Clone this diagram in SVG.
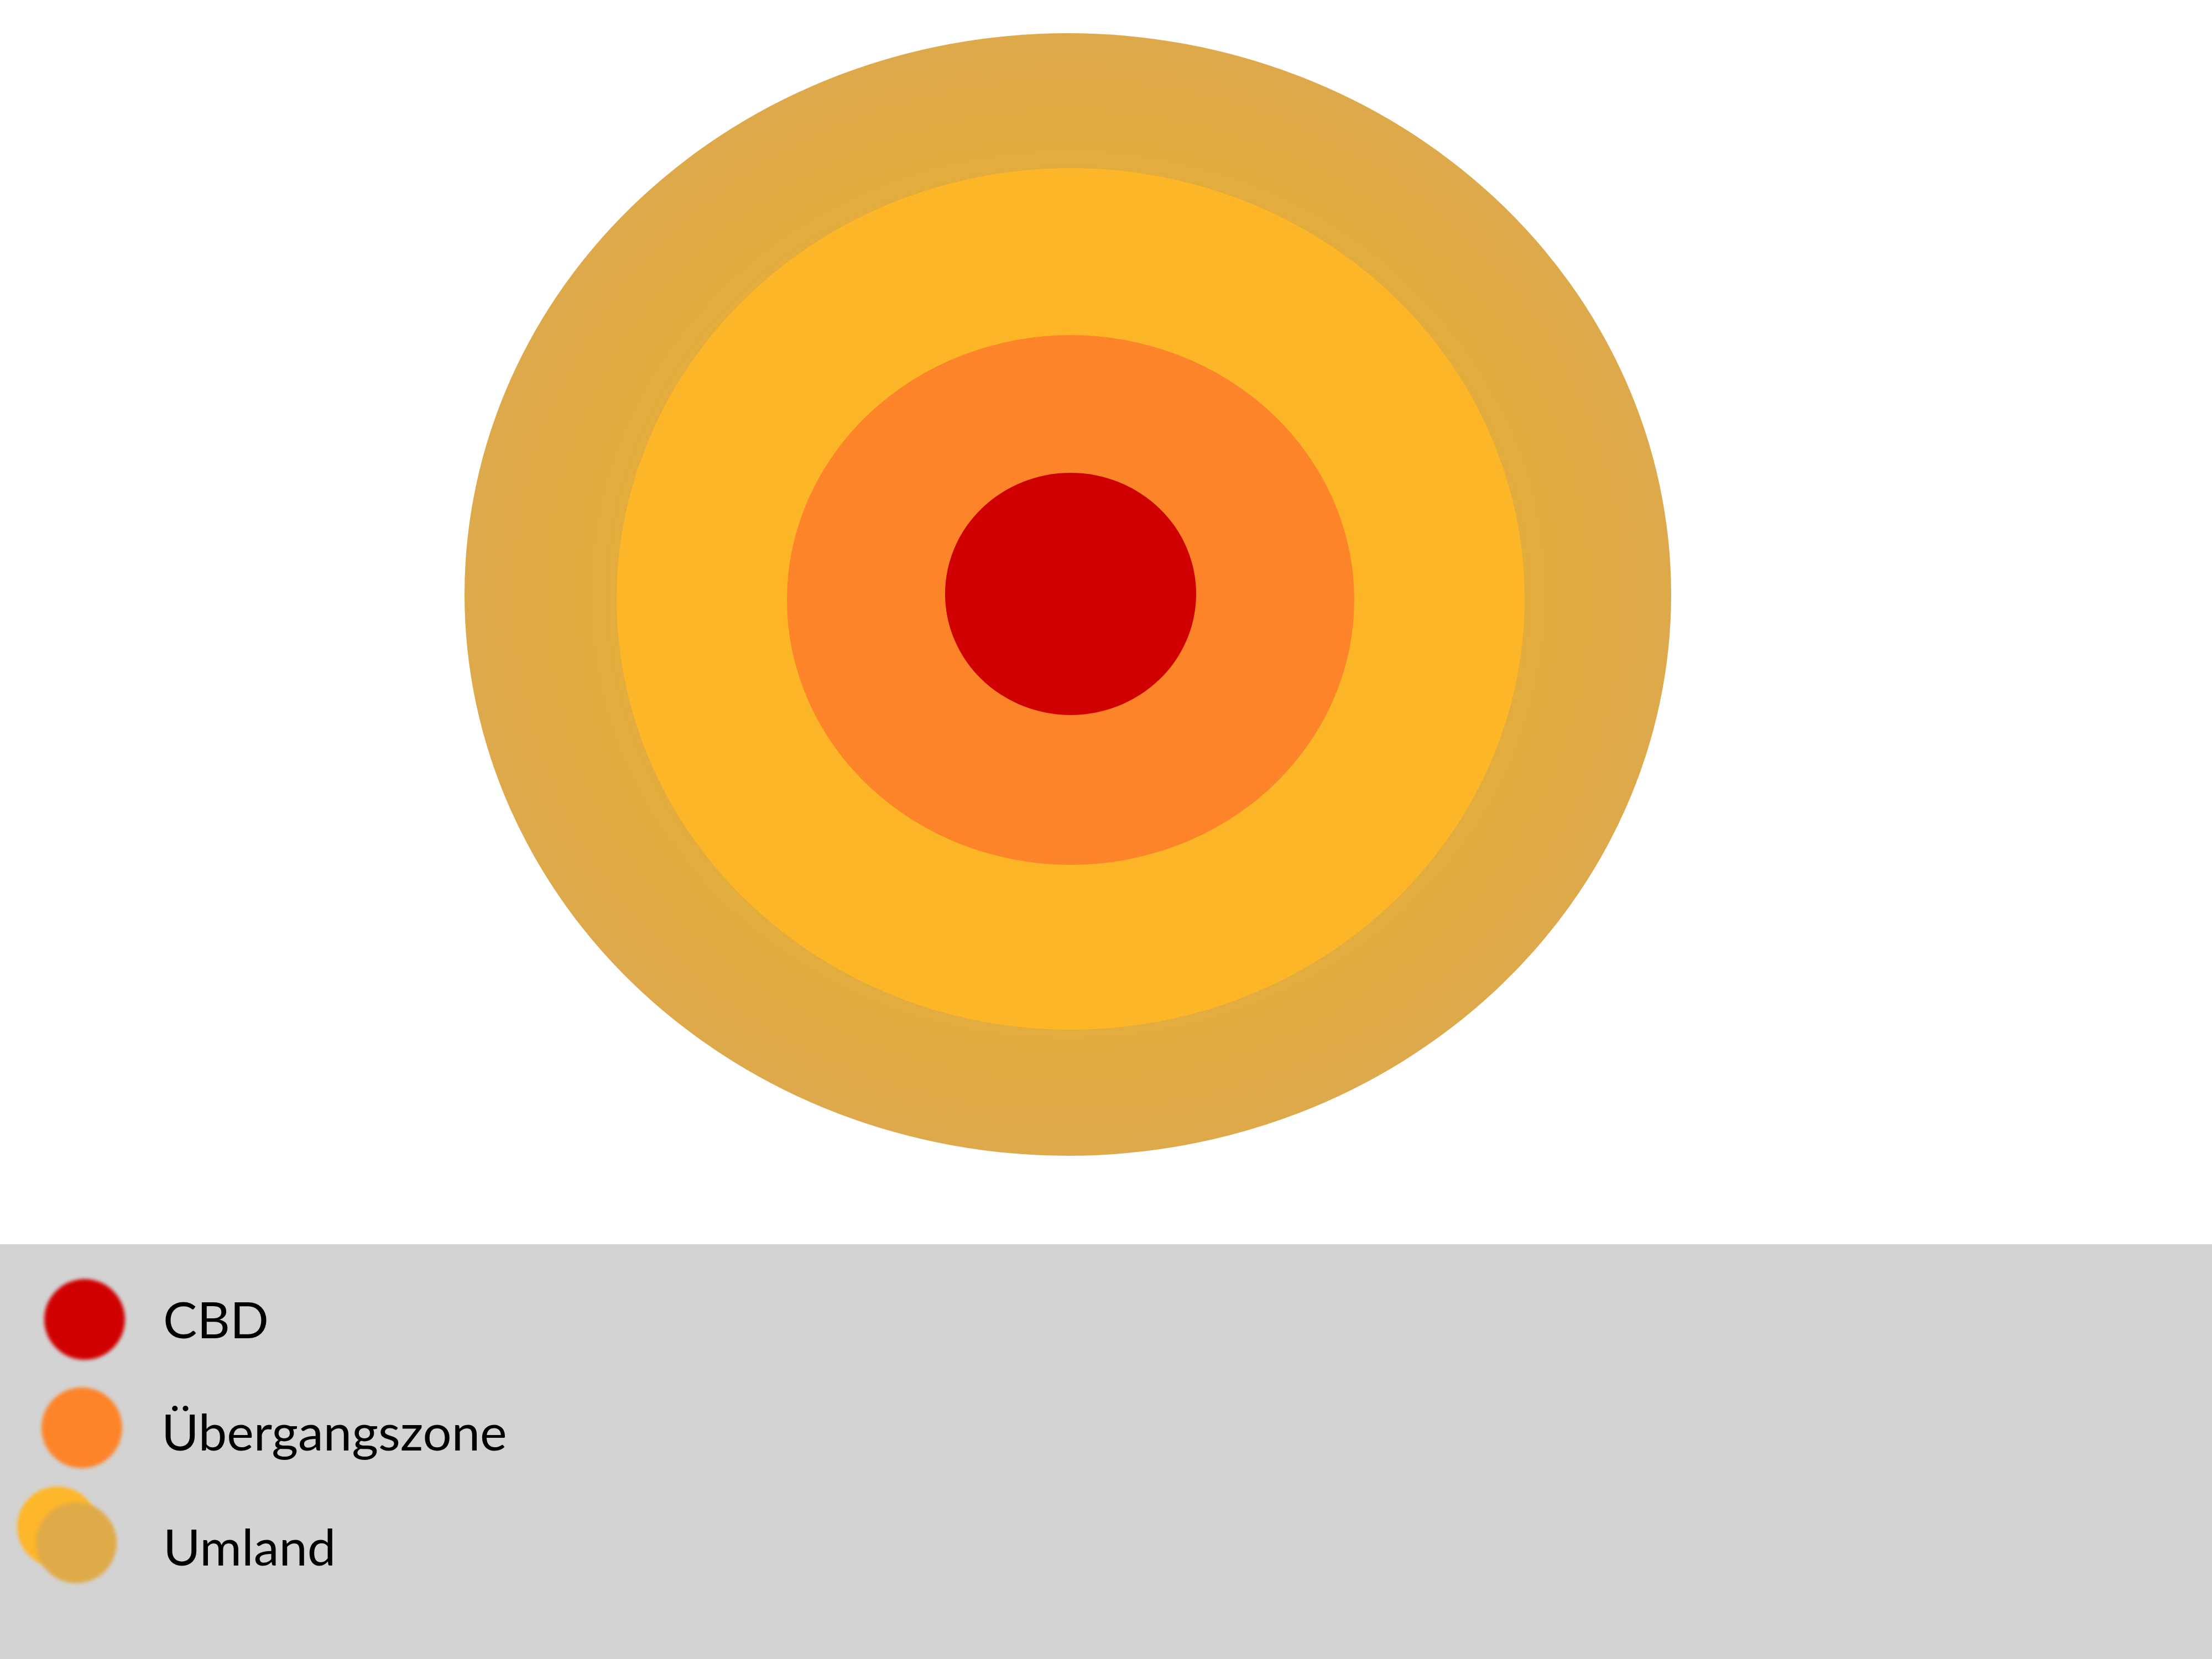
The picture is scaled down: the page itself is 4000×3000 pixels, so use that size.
<svg xmlns="http://www.w3.org/2000/svg" width="4000" height="3000" viewBox="0 0 4000 3000">
<style>
  .lbl { font-family: Lato, "Open Sans", "Liberation Sans", sans-serif; font-size: 92px; fill: #000; }
</style>
<defs>
  <radialGradient id="outerGrad" cx="0.5" cy="0.5" r="0.5">
    <stop offset="0.7" stop-color="#e4ad3a"/>
    <stop offset="1" stop-color="#dea94b"/>
  </radialGradient>
  <filter id="soft" x="-20%" y="-20%" width="140%" height="140%">
    <feGaussianBlur stdDeviation="3"/>
  </filter>
</defs>
<rect x="0" y="0" width="4000" height="3000" fill="#ffffff"/>
<g id="zones">
  <g id="umland"><ellipse cx="1931" cy="1075" rx="1091" ry="1015" fill="url(#outerGrad)"/></g>
  <g id="vorstadt"><ellipse cx="1936" cy="1083" rx="821" ry="779" fill="#feb629"/></g>
  <g id="uebergangszone"><ellipse cx="1936" cy="1085" rx="513" ry="479" fill="#fe8429"/></g>
  <g id="cbd"><ellipse cx="1936" cy="1074" rx="227" ry="219" fill="#d10000"/></g>
</g>
<g id="legend">
  <rect x="0" y="2250" width="4000" height="750" fill="#d3d3d3"/>
  <g id="legend-cbd">
    <circle cx="153" cy="2386" r="73" fill="#d10000" filter="url(#soft)"/>
    <text class="lbl" x="295" y="2420">CBD</text>
  </g>
  <g id="legend-uebergang">
    <circle cx="148" cy="2582" r="73" fill="#fe8429" filter="url(#soft)"/>
    <text class="lbl" x="292" y="2623">Übergangszone</text>
  </g>
  <g id="legend-umland">
    <circle cx="104" cy="2761" r="73" fill="#feb629" filter="url(#soft)"/>
    <circle cx="138" cy="2790" r="73" fill="#dfab4a" filter="url(#soft)"/>
    <text class="lbl" x="295" y="2831">Umland</text>
  </g>
</g>
<g id="connectors"/>
</svg>
